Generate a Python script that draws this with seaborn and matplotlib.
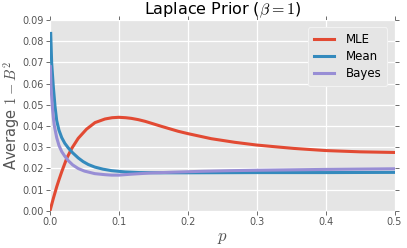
import matplotlib
matplotlib.use("Agg")
import matplotlib.pyplot as plt
import seaborn as sns
import pandas as pd

# ---- data ----
p_mle = [0, 0.0025, 0.0048, 0.0073, 0.0097, 0.013, 0.017, 0.0242, 0.0315, 0.041,
         0.053, 0.0653, 0.0798, 0.09, 0.1, 0.11, 0.118, 0.128, 0.138, 0.15,
         0.162, 0.186, 0.2, 0.234, 0.268, 0.3, 0.33, 0.354, 0.4, 0.45, 0.5]
mle = [0, 0.0030, 0.0058, 0.0086, 0.0113, 0.0146, 0.0184, 0.0247, 0.0294, 0.0342,
       0.0385, 0.0416, 0.0433, 0.0439, 0.0441, 0.0439, 0.0436, 0.0430, 0.0422, 0.0410,
       0.0398, 0.0375, 0.0364, 0.0340, 0.0323, 0.0310, 0.0301, 0.0294, 0.0284, 0.0278, 0.0275]

p_mean = [0.001, 0.0024, 0.0048, 0.0073, 0.0097, 0.013, 0.017, 0.0215, 0.0266, 0.029,
          0.033, 0.041, 0.048, 0.0556, 0.065, 0.077, 0.0895, 0.109, 0.13, 0.16,
          0.2, 0.3, 0.4, 0.5]
mean = [0.0837, 0.0696, 0.0585, 0.0491, 0.0425, 0.0380, 0.0345, 0.0318, 0.0296, 0.0287,
        0.0273, 0.0249, 0.0232, 0.0218, 0.0206, 0.0196, 0.0189, 0.0183, 0.0180, 0.0179,
        0.0179, 0.0180, 0.0180, 0.0181]

p_bayes = [0.0005, 0.0015, 0.0034, 0.0048, 0.0063, 0.0097, 0.013, 0.017, 0.0215, 0.0266,
           0.033, 0.041, 0.05, 0.065, 0.08, 0.0895, 0.1, 0.116, 0.145, 0.18,
           0.22, 0.261, 0.3, 0.4, 0.5]
bayes = [0.0680, 0.0585, 0.0490, 0.0440, 0.0400, 0.0345, 0.0308, 0.0279, 0.0257, 0.0236,
         0.0216, 0.0199, 0.0187, 0.0175, 0.0170, 0.0168, 0.0168, 0.0172, 0.0178, 0.0182,
         0.0186, 0.0189, 0.0191, 0.0195, 0.0198]

labels = ["MLE", "Mean", "Bayes"]
colors = ["#E24A33", "#348ABD", "#988ED5"]
xticks = [0.0, 0.1, 0.2, 0.3, 0.4, 0.5]
yticks = [0.00, 0.01, 0.02, 0.03, 0.04, 0.05, 0.06, 0.07, 0.08, 0.09]

df = pd.concat([
    pd.DataFrame({"p": p_mle, "v": mle, "series": labels[0]}),
    pd.DataFrame({"p": p_mean, "v": mean, "series": labels[1]}),
    pd.DataFrame({"p": p_bayes, "v": bayes, "series": labels[2]}),
], ignore_index=True)

plt.style.use("ggplot")
plt.rcParams["mathtext.fontset"] = "cm"
plt.rcParams["font.family"] = ["DejaVu Sans"]

fig, ax = plt.subplots(figsize=(4.07, 2.48), dpi=100)
fig.subplots_adjust(left=0.1229, right=0.9693, bottom=0.1504, top=0.919)

sns.lineplot(data=df, x="p", y="v", hue="series", hue_order=labels,
             palette=colors, linewidth=2.2, ax=ax, legend=False)

ax.set_xlim(0, 0.5)
ax.set_ylim(0, 0.09)
ax.set_xticks(xticks)
ax.set_xticklabels([f"{t:.1f}" for t in xticks])
ax.set_yticks(yticks)
ax.set_yticklabels([f"{t:.2f}" for t in yticks])
ax.tick_params(axis="both", which="both", labelsize=7, colors="#555555",
               direction="out", length=3, width=0.6, pad=1.5,
               top=True, right=True, labelcolor="#555555")
ax.grid(True, color="white", linewidth=0.9)
for s in ax.spines.values():
    s.set_visible(False)

ax.set_title(r"Laplace Prior ($\beta=1$)", fontsize=11.5, color="black", pad=2)
ax.set_xlabel(r"$p$", fontsize=12, color="#555555", labelpad=1)
ax.set_ylabel(r"Average $1-B^2$", fontsize=10.5, color="#555555", labelpad=0.5)

handles = [plt.Line2D([], [], color=c, linewidth=2.2) for c in colors]
leg = ax.legend(handles, labels, loc="upper right", fontsize=8.5,
                handlelength=1.7, frameon=True, borderaxespad=0.6,
                labelspacing=0.35, handletextpad=1.0, borderpad=0.5)
leg.get_frame().set_facecolor("#E5E5E5")
leg.get_frame().set_edgecolor("#F2F2F2")
leg.get_frame().set_linewidth(0.8)
leg.get_frame().set_alpha(1)

fig.savefig("out.png", dpi=100)
